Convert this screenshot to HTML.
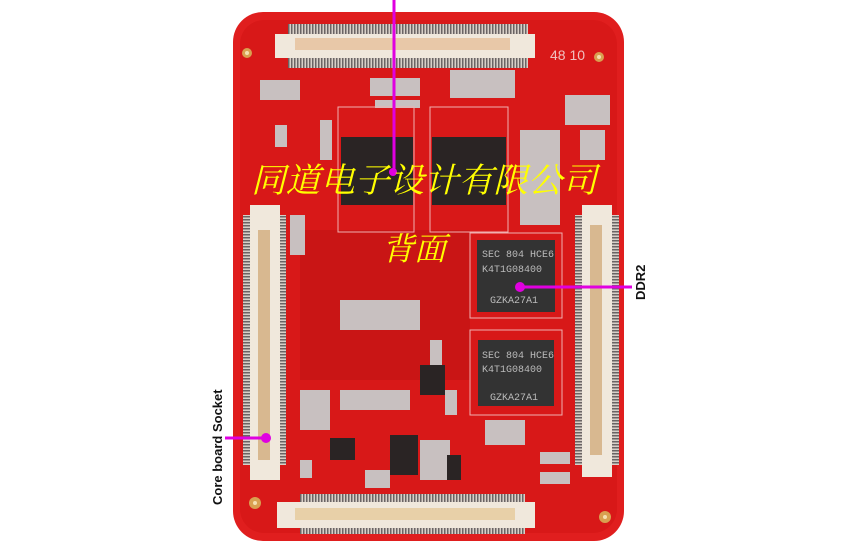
<!DOCTYPE html>
<html><head><meta charset="utf-8"><style>
html,body{margin:0;padding:0;background:#fff;}
svg{display:block}
</style></head><body>
<svg width="868" height="545" viewBox="0 0 868 545" xmlns="http://www.w3.org/2000/svg">
<defs>
<pattern id="pv" width="3" height="10" patternUnits="userSpaceOnUse"><rect width="3" height="10" fill="#d8d0c8"/><rect width="1.5" height="10" fill="#6a6464"/></pattern>
<pattern id="ph" width="10" height="3" patternUnits="userSpaceOnUse"><rect width="10" height="3" fill="#d8d0c8"/><rect width="10" height="1.5" fill="#6a6464"/></pattern>
</defs>
<rect x="0" y="0" width="868" height="545" fill="#fff"/>
<!-- board -->
<rect x="233" y="12" width="391" height="529" rx="30" fill="#e01e1e"/>
<rect x="240" y="20" width="377" height="513" rx="24" fill="#d81818"/>
<rect x="300" y="230" width="170" height="150" fill="#c01414" opacity="0.6"/>
<!-- mounting holes -->
<circle cx="247" cy="53" r="5" fill="#d9a050"/><circle cx="247" cy="53" r="2" fill="#f5e0b0"/>
<circle cx="599" cy="57" r="5" fill="#d9a050"/><circle cx="599" cy="57" r="2" fill="#f5e0b0"/>
<circle cx="255" cy="503" r="6" fill="#d9a050"/><circle cx="255" cy="503" r="2" fill="#f5e0b0"/>
<circle cx="605" cy="517" r="6" fill="#d9a050"/><circle cx="605" cy="517" r="2" fill="#f5e0b0"/>
<text x="550" y="60" font-family="Liberation Sans, sans-serif" font-size="14" fill="#f0c0c0">48 10</text>
<!-- top connector -->
<rect x="288" y="24" width="240" height="10" fill="url(#pv)"/>
<rect x="288" y="58" width="240" height="10" fill="url(#pv)"/>
<rect x="275" y="34" width="260" height="24" fill="#f0e8dc"/>
<rect x="295" y="38" width="215" height="12" fill="#e8c8a8"/>
<!-- bottom connector -->
<rect x="300" y="494" width="225" height="9" fill="url(#pv)"/>
<rect x="300" y="528" width="225" height="6" fill="url(#pv)"/>
<rect x="277" y="502" width="258" height="26" fill="#f0e8dc"/>
<rect x="295" y="508" width="220" height="12" fill="#e8d0a8"/>
<!-- left connector -->
<rect x="243" y="215" width="8" height="250" fill="url(#ph)"/>
<rect x="279" y="215" width="7" height="250" fill="url(#ph)"/>
<rect x="250" y="205" width="30" height="275" fill="#f0e8dc"/>
<rect x="258" y="230" width="12" height="230" fill="#d8b890"/>
<!-- right connector -->
<rect x="575" y="215" width="8" height="250" fill="url(#ph)"/>
<rect x="611" y="215" width="8" height="250" fill="url(#ph)"/>
<rect x="582" y="205" width="30" height="272" fill="#f0e8dc"/>
<rect x="590" y="225" width="12" height="230" fill="#d8b890"/>
<!-- components -->
<g fill="#c8c0c0">
<rect x="450" y="70" width="65" height="28"/><rect x="370" y="78" width="50" height="18"/>
<rect x="275" y="125" width="12" height="22"/><rect x="320" y="120" width="12" height="40"/>
<rect x="565" y="95" width="45" height="30"/><rect x="580" y="130" width="25" height="30"/>
<rect x="520" y="130" width="40" height="95"/><rect x="300" y="390" width="30" height="40"/>
<rect x="340" y="390" width="70" height="20"/><rect x="365" y="470" width="25" height="18"/>
<rect x="420" y="440" width="30" height="40"/><rect x="485" y="420" width="40" height="25"/>
<rect x="540" y="452" width="30" height="12"/><rect x="540" y="472" width="30" height="12"/>
<rect x="445" y="390" width="12" height="25"/><rect x="300" y="460" width="12" height="18"/>
<rect x="260" y="80" width="40" height="20"/><rect x="290" y="215" width="15" height="40"/>
<rect x="340" y="300" width="80" height="30"/><rect x="430" y="340" width="12" height="30"/>
<rect x="375" y="100" width="45" height="8"/>
</g>
<!-- top chips -->
<rect x="338" y="107" width="76" height="125" fill="none" stroke="#f0b0b0" stroke-width="1"/>
<rect x="430" y="107" width="78" height="125" fill="none" stroke="#f0b0b0" stroke-width="1"/>
<rect x="341" y="137" width="72" height="68" fill="#2a2424"/>
<rect x="432" y="137" width="74" height="68" fill="#2a2424"/>
<!-- DDR chips -->
<rect x="470" y="233" width="92" height="85" fill="none" stroke="#f0b0b0"/>
<rect x="470" y="330" width="92" height="85" fill="none" stroke="#f0b0b0"/>
<rect x="477" y="240" width="78" height="72" fill="#333"/>
<rect x="478" y="340" width="76" height="66" fill="#333"/>
<g font-family="Liberation Mono, monospace" font-size="10" fill="#bbb">
<text x="482" y="257">SEC 804 HCE6</text><text x="482" y="272">K4T1G08400</text><text x="490" y="303">GZKA27A1</text>
<text x="482" y="358">SEC 804 HCE6</text><text x="482" y="372">K4T1G08400</text><text x="490" y="400">GZKA27A1</text>
</g>
<rect x="420" y="365" width="25" height="30" fill="#2a2424"/>
<rect x="390" y="435" width="28" height="40" fill="#2a2424"/>
<rect x="447" y="455" width="14" height="25" fill="#2a2424"/>
<rect x="330" y="438" width="25" height="22" fill="#2a2424"/>
<!-- magenta leaders -->
<line x1="394" y1="0" x2="394" y2="172" stroke="#e000e0" stroke-width="3"/>
<circle cx="393" cy="172" r="4" fill="#e000e0"/>
<line x1="520" y1="287" x2="632" y2="287" stroke="#e000e0" stroke-width="3"/>
<circle cx="520" cy="287" r="5" fill="#e000e0"/>
<line x1="225" y1="438" x2="266" y2="438" stroke="#e000e0" stroke-width="3"/>
<circle cx="266" cy="438" r="5" fill="#e000e0"/>
<!-- labels -->
<text transform="translate(645,300) rotate(-90)" font-family="Liberation Sans, sans-serif" font-weight="bold" font-size="13" fill="#111">DDR2</text>
<text transform="translate(222,505) rotate(-90)" font-family="Liberation Sans, sans-serif" font-weight="bold" font-size="13" fill="#111">Core board Socket</text>
<text x="251" y="192" font-family="'Noto Serif CJK SC', serif" font-style="italic" font-size="34" fill="#ffff00" textLength="346" lengthAdjust="spacingAndGlyphs">同道电子设计有限公司</text>
<text x="382" y="260" font-family="'Noto Serif CJK SC', serif" font-style="italic" font-size="32" fill="#ffff00">背面</text>
</svg>
</body></html>
